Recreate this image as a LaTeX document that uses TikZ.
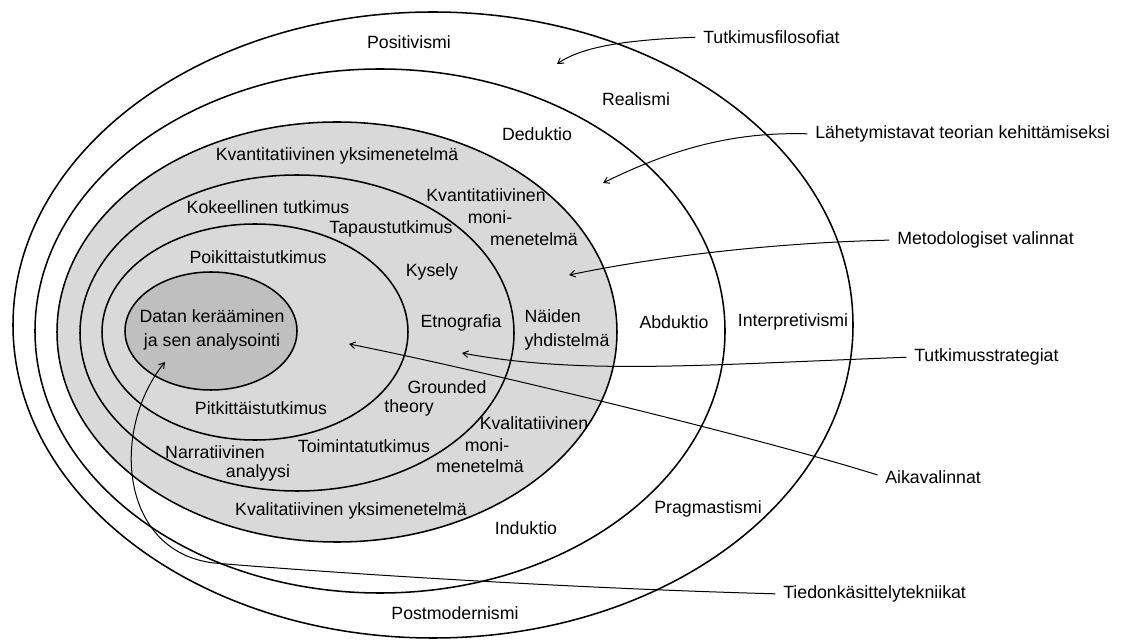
\documentclass[tikz,border=0pt]{standalone}
\usepackage{fontspec}
\setmainfont{Liberation Sans}
\usetikzlibrary{arrows.meta}
\definecolor{vaalea}{RGB}{217,217,217}
\definecolor{tumma}{RGB}{191,191,191}

\begin{document}
\begin{tikzpicture}[x=0.75pt,y=0.75pt,yscale=-1,xscale=1,
  rengas/.style={line width=1.15pt},
  teksti/.style={inner sep=0.75pt, font=\fontsize{13.3}{17.5}\selectfont},
  nuoli/.style={line width=0.75pt, -{Straight Barb[length=4pt,width=5pt]}, shorten <=5pt}]
%set diagram size 1121 x 641
\path[use as bounding box, fill=white] (0,0) rectangle (1121,641);

%Shape: Ellipse [filosofiat]
\draw[rengas, fill=white] (433,325) ellipse (420 and 313);
%Shape: Ellipse [lahestymistavat]
\draw[rengas, fill=white] (380,331) ellipse (345 and 262);
%Shape: Ellipse [metodologiset valinnat]
\draw[rengas, fill=vaalea] (337,332) ellipse (280 and 210);
%Shape: Ellipse [strategiat]
\draw[rengas, fill=vaalea] (297,333) ellipse (217 and 158);
%Shape: Ellipse [aikavalinnat]
\draw[rengas, fill=vaalea] (255,332) ellipse (153 and 108);
%Shape: Ellipse [tekniikat]
\draw[rengas, fill=tumma] (211,331) ellipse (86 and 59);

% Text Node
\node[teksti] (posi) at (409,42) {Positivismi};
\node[teksti] (real) at (636,99) {Realismi};
\node[teksti] (dedu) at (537,134) {Deduktio};
\node[teksti] (kvay) at (337,156) {Kvantitatiivinen yksimenetelmä};
\node[teksti] (kvam1) at (486,195) {Kvantitatiivinen};
\node[teksti] (kvam2) at (490,217) {moni-};
\node[teksti] (kvam3) at (534,239) {menetelmä};
\node[teksti] (koke) at (268,207) {Kokeellinen tutkimus};
\node[teksti] (tapa) at (391,229) {Tapaustutkimus};
\node[teksti] (poik) at (258,257) {Poikittaistutkimus};
\node[teksti] (kyse) at (432,272) {Kysely};
\node[teksti, align=center] (data) at (212,330) {Datan kerääminen\\ja sen analysointi};
\node[teksti] (etno) at (461,323) {Etnografia};
\node[teksti, align=left] (naid) at (567,330) {Näiden\\yhdistelmä};
\node[teksti] (abdu) at (674,322) {Abduktio};
\node[teksti] (inte) at (793,322) {Interpretivismi};
\node[teksti] (grou1) at (447,387) {Grounded};
\node[teksti] (grou2) at (409,408) {theory};
\node[teksti] (pitk) at (261,408) {Pitkittäistutkimus};
\node[teksti] (kvlm1) at (534,423) {Kvalitatiivinen};
\node[teksti] (kvlm2) at (487,445) {moni-};
\node[teksti] (kvlm3) at (480,466) {menetelmä};
\node[teksti] (toim) at (364,446) {Toimintatutkimus};
\node[teksti] (narr1) at (215,452) {Narratiivinen};
\node[teksti] (narr2) at (258,473) {analyysi};
\node[teksti] (kvly) at (351,511) {Kvalitatiivinen yksimenetelmä};
\node[teksti] (indu) at (526,528) {Induktio};
\node[teksti] (prag) at (708,509) {Pragmastismi};
\node[teksti] (post) at (455,613) {Postmodernismi};

% Text Node [selitteet]
\node[teksti, anchor=west] (filo) at (702,37) {Tutkimusfilosofiat};
\node[teksti, anchor=west] (lahe) at (814,134) {Lähetymistavat teorian kehittämiseksi};
\node[teksti, anchor=west] (meto) at (896,240) {Metodologiset valinnat};
\node[teksti, anchor=west] (stra) at (913,357) {Tutkimusstrategiat};
\node[teksti, anchor=west] (aika) at (884,477) {Aikavalinnat};
\node[teksti, anchor=west] (tied) at (782,594) {Tiedonkäsittelytekniikat};

% arrow tips
\coordinate (k1) at (557,64);
\coordinate (k2) at (603,183);
\coordinate (k3) at (569,275);
\coordinate (k4) at (462,353);
\coordinate (k5) at (349,344);
\coordinate (k6) at (165,362);

%Curve Lines
\draw[nuoli] (filo.west) .. controls (620,40) and (580,48) .. (k1);
\draw[nuoli] (lahe.west) .. controls (740,132) and (680,145) .. (k2);
\draw[nuoli] (meto.west) .. controls (800,242) and (680,252) .. (k3);
\draw[nuoli] (stra.west) .. controls (700,365) and (580,375) .. (k4);
\draw[nuoli] (aika.west) .. controls (760,438) and (480,370) .. (k5);
\draw[nuoli] (tied.west) .. controls (560,588) and (320,572) .. (214,563) .. controls (120,552) and (110,430) .. (k6);

\end{tikzpicture}
\end{document}
